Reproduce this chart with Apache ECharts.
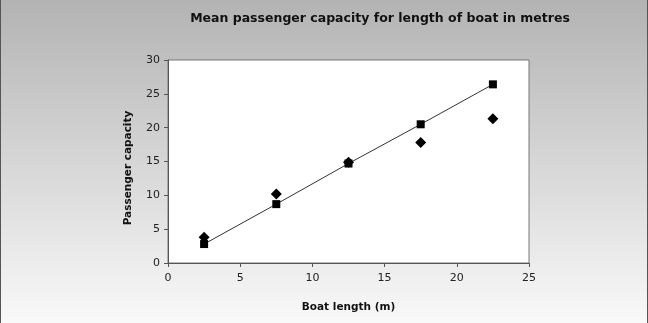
<!DOCTYPE html>
<html>
<head>
<meta charset="utf-8">
<script src="https://cdn.jsdelivr.net/npm/echarts@6/dist/echarts.min.js"></script>
<style>
html, body { margin: 0; padding: 0; }
#chart { width: 648px; height: 323px; box-sizing: border-box; border-left: 1px solid #555; border-right: 1px solid #555; }
</style>
</head>
<body>
<div id="chart"></div>
<script>
// boat length (m), mid points of the length bands
var boatLength = [2.5, 7.5, 12.5, 17.5, 22.5];
// squares joined by the line
var squareValues = [2.8, 8.7, 14.7, 20.5, 26.4];
// diamonds
var diamondValues = [3.8, 10.2, 14.9, 17.8, 21.3];
var xTicks = [0, 5, 10, 15, 20, 25];
var yTicks = [0, 5, 10, 15, 20, 25, 30];

function pairs(xs, ys){
	var out = [];
	for (var i = 0; i < xs.length; i++) out.push([xs[i], ys[i]]);
	return out;
}

var dom = document.getElementById("chart");
var myChart = echarts.init(dom);
var font = 'DejaVu Sans';
var option = {
	animation: false,
	backgroundColor: {
		type: 'linear', x: 0, y: 0, x2: 0, y2: 1,
		colorStops: [{offset: 0, color: '#b3b3b3'}, {offset: 1, color: '#f9f9f9'}]
	},
	title: {
		text: 'Mean passenger capacity for length of boat in metres',
		left: 374,
		textAlign: 'center',
		top: 7,
		textStyle: {fontFamily: font, fontSize: 12.5, fontWeight: 'bold', color: '#111'}
	},
	graphic: [{
		type: 'text',
		x: 127, y: 168, rotation: Math.PI / 2,
		style: {text: 'Passenger capacity', fontFamily: font, fontSize: 10.5, fontWeight: 'bold', fill: '#111', align: 'center', verticalAlign: 'middle'}
	}],
	grid: {left: 167, right: 118, top: 60, bottom: 60, show: true, backgroundColor: '#fff', borderColor: '#777', borderWidth: 1},
	xAxis: {
		type: 'value',
		min: xTicks[0], max: xTicks[xTicks.length - 1], interval: 5,
		name: 'Boat length (m)', nameLocation: 'middle', nameGap: 39,
		nameTextStyle: {fontFamily: font, fontSize: 10.5, fontWeight: 'bold', color: '#111'},
		axisLine: {lineStyle: {color: '#555'}},
		axisTick: {length: 4, lineStyle: {color: '#555'}},
		axisLabel: {fontFamily: font, fontSize: 11, color: '#222', margin: 10},
		splitLine: {show: false}
	},
	yAxis: {
		type: 'value',
		min: yTicks[0], max: yTicks[yTicks.length - 1], interval: 5,
		axisLine: {show: true, lineStyle: {color: '#555'}},
		axisTick: {show: true, length: 4, lineStyle: {color: '#555'}},
		axisLabel: {fontFamily: font, fontSize: 11, color: '#222', margin: 8},
		splitLine: {show: false}
	},
	series: [{
		type: 'line',
		data: pairs(boatLength, squareValues),
		symbol: 'rect', symbolSize: 8,
		itemStyle: {color: '#000', opacity: 1},
		lineStyle: {color: '#333', width: 1}
	}, {
		type: 'scatter',
		data: pairs(boatLength, diamondValues),
		symbol: 'diamond', symbolSize: [11, 11],
		itemStyle: {color: '#000', opacity: 1}
	}]
};

if(option && typeof option === 'object'){
	myChart.setOption(option);
}
</script>
</body>
</html>
